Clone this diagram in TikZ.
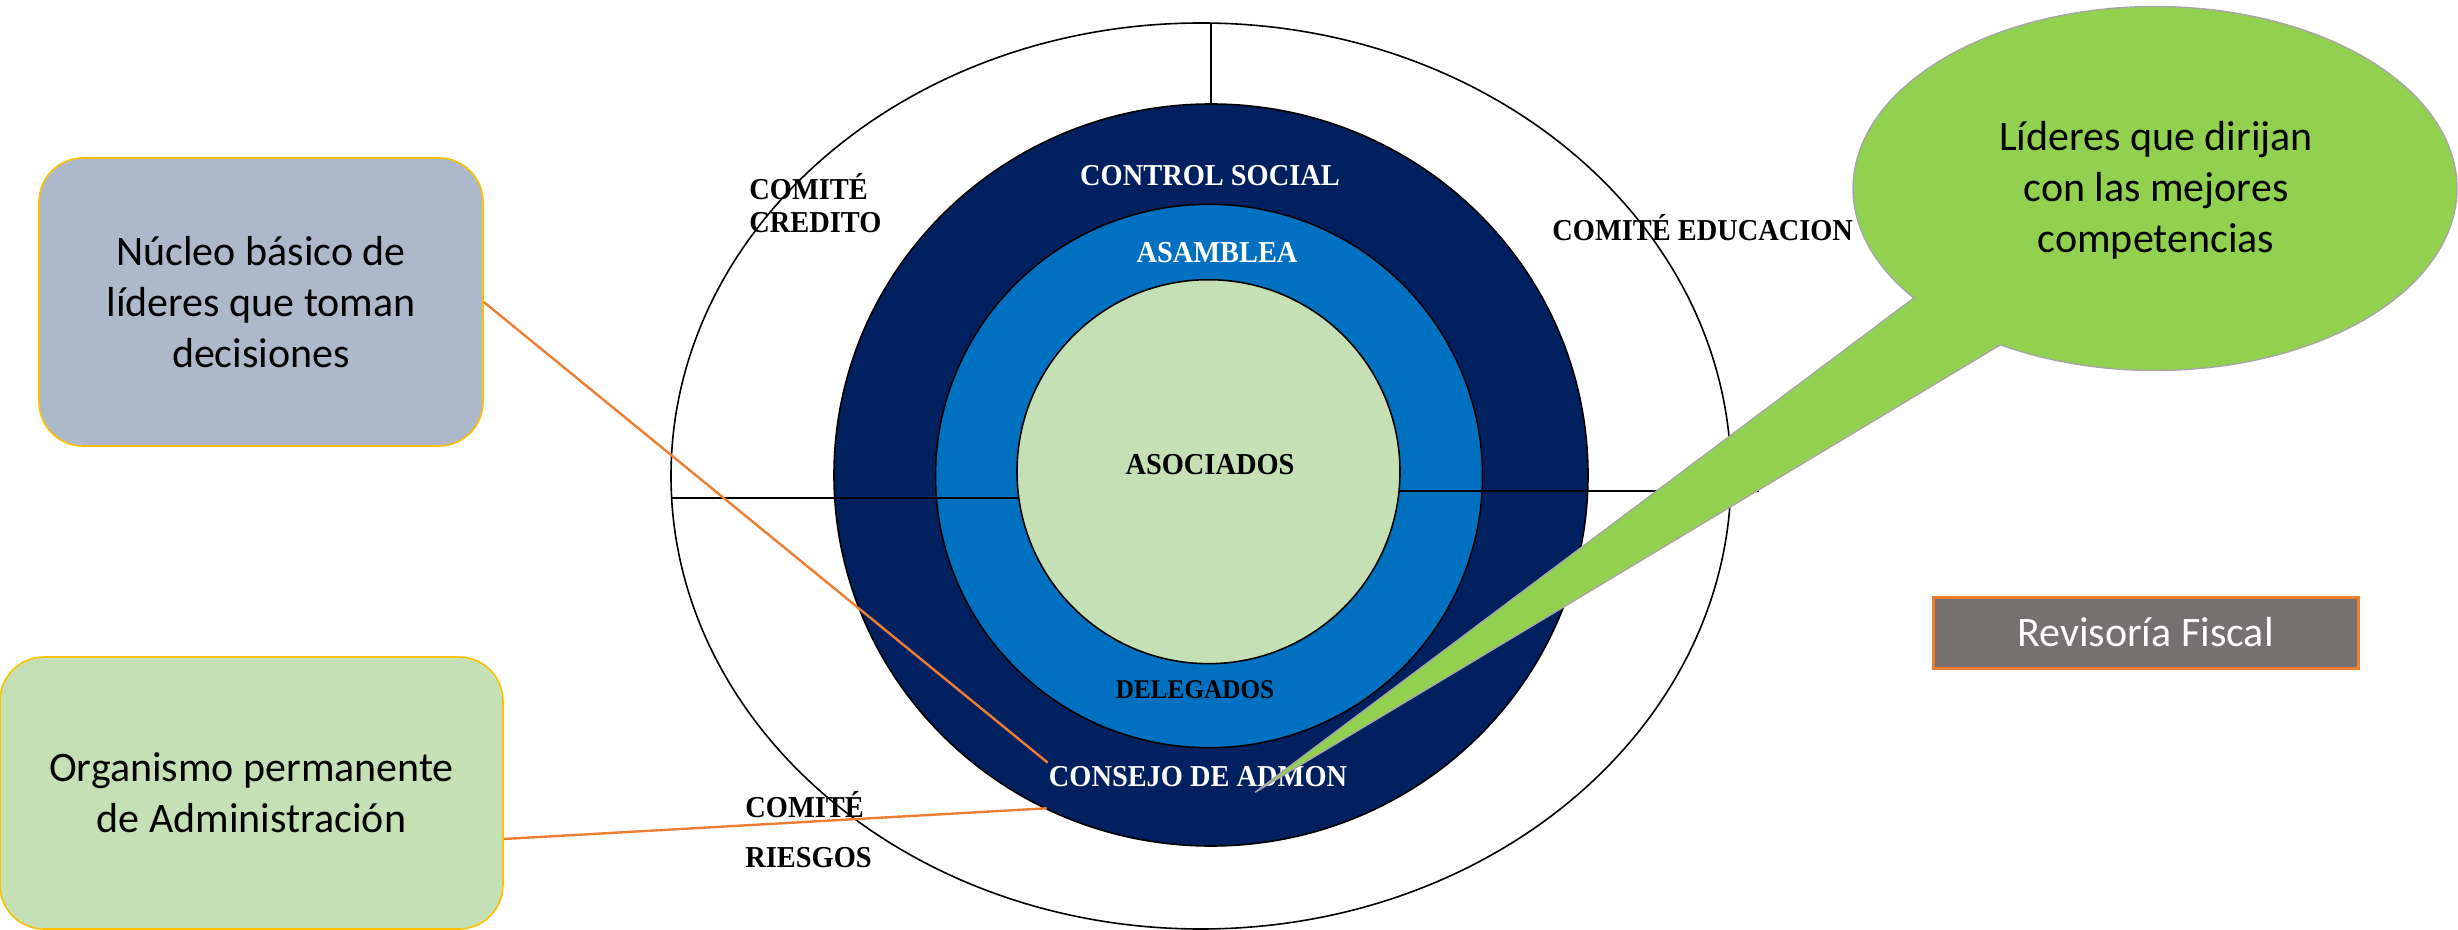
\documentclass[tikz,border=0pt]{standalone}
\usepackage{graphicx}
\usepackage{fontspec}
\newfontfamily\calib{Carlito}
\newfontfamily\tnr{Liberation Serif}
\newcommand\tallcaps[1]{\scalebox{1}[1.07]{#1}}
\definecolor{navy}{HTML}{002060}
\definecolor{midblue}{HTML}{0070C0}
\definecolor{palegreen}{HTML}{C5E0B4}
\definecolor{limegreen}{HTML}{92D050}
\definecolor{slate}{HTML}{ADB9CA}
\definecolor{gold}{HTML}{FFC000}
\definecolor{accentorange}{HTML}{ED7D31}
\definecolor{darkgrey}{HTML}{767171}
\definecolor{bubbleedge}{HTML}{A6A6A6}
\begin{document}
\begin{tikzpicture}[x=0.5pt,y=-0.5pt,
  ring/.style={draw=black,line width=0.8pt},
  divider/.style={draw=black,line width=0.8pt},
  lbl/.style={font=\tnr\bfseries\fontsize{14.2}{17}\selectfont,inner sep=0pt},
  smalllbl/.style={font=\tnr\bfseries\fontsize{12.6}{15}\selectfont,inner sep=0pt},
  infobox/.style={draw=gold,line width=0.8pt,rounded corners=22pt,align=center,inner sep=0pt,
    font=\calib\fontsize{21}{25.5}\selectfont},
  orangeline/.style={draw=accentorange,line width=1.2pt},
  bubble/.style={fill=limegreen,draw=bubbleedge,line width=0.7pt,line join=miter}]
\useasboundingbox (0,0) rectangle (2458,930);

% outer ellipse and dividers
\draw[ring,fill=white] (1201,476) ellipse [x radius=530, y radius=453];
\draw[divider] (1211,22.7) -- (1211,110);
% navy ring
\draw[ring,fill=navy] (1211,475) ellipse [x radius=377, y radius=371];
% blue ring
\draw[ring,fill=midblue] (1209,476) ellipse [x radius=273.5, y radius=271.7];
% horizontal dividers
\draw[divider] (671.6,498) -- (1208,498);
\draw[divider] (1208,491) -- (1759,491);
% inner green
\draw[ring,fill=palegreen] (1208.5,471.7) ellipse [x radius=191.5, y radius=192];

% ring labels
\node[lbl,text=white,anchor=base] (controlsocial) at (1210,185.7) {\tallcaps{CONTROL SOCIAL}};
\node[lbl,text=white,anchor=base] (asamblea) at (1217,263) {\tallcaps{ASAMBLEA}};
\node[lbl,anchor=base] (asociados) at (1210,474) {\tallcaps{ASOCIADOS}};
\node[smalllbl,anchor=base] (delegados) at (1195,698.7) {\tallcaps{DELEGADOS}};
\node[lbl,text=white,anchor=base] (consejo) at (1198,786) {\tallcaps{CONSEJO DE ADMON}};

% committees
\node[lbl,anchor=base west] (credito1) at (749,200) {\tallcaps{COMITÉ}};
\node[lbl,anchor=base west] (credito2) at (749,233) {\tallcaps{CREDITO}};
\node[lbl,anchor=base west] (educacion) at (1552,241) {\tallcaps{COMITÉ EDUCACION}};
\node[lbl,anchor=base west] (riesgos1) at (745,817) {\tallcaps{COMITÉ}};
\node[lbl,anchor=base west] (riesgos2) at (745,867) {\tallcaps{RIESGOS}};

% left boxes
\node[infobox,fill=slate,minimum width=222pt,minimum height=144pt] (nucleo) at (261,302)
  {Núcleo básico de\\líderes que toman\\decisiones};
\node[infobox,fill=palegreen,minimum width=251.5pt,minimum height=136pt] (organismo) at (251.5,793)
  {Organismo permanente\\de Administración};

% revisoria
\node[draw=accentorange,line width=1.5pt,fill=darkgrey,text=white,inner sep=0pt,
  minimum width=212.5pt,minimum height=35.5pt,font=\calib\fontsize{21}{25.5}\selectfont]
  (revisoria) at (2145.5,632.5) {Revisoría Fiscal};

% orange connectors
\coordinate (consejoA) at (1047.7,762.7);
\coordinate (consejoB) at (1046.7,808.3);
\draw[orangeline] (nucleo.east) -- (consejoA);
\draw[orangeline] ([yshift=-23pt]organismo.east) -- (consejoB);

% speech bubble
\coordinate (tip) at (1255,792.3);
\draw[bubble] (tip) -- (1913.8,298)
  -- plot[domain=143:480.8,samples=160,variable=\t] ({2155+302*cos(\t)},{188.5+182*sin(\t)})
  -- cycle;
\node[align=center,inner sep=0pt,font=\calib\fontsize{21}{25.5}\selectfont] (lideres) at (2156,190)
  {Líderes que dirijan\\con las mejores\\competencias};
\end{tikzpicture}
\end{document}
